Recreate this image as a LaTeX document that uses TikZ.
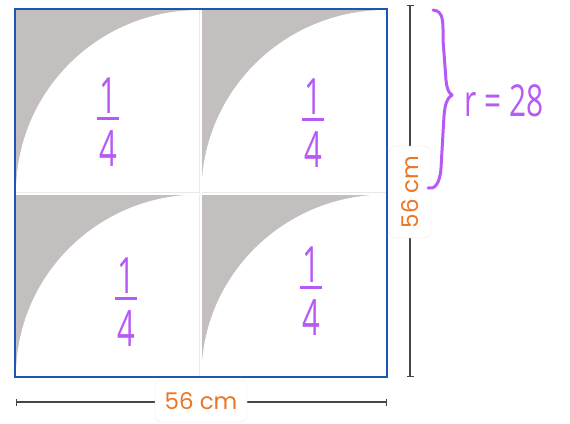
\documentclass[tikz,border=0pt]{standalone}
\usepackage{fontspec}
\usetikzlibrary{arrows.meta}
\newfontfamily\labelfont{Poppins}
\newfontfamily\handfont{Open Sans}
\definecolor{sqblue}{RGB}{28,86,184}
\definecolor{greyfill}{RGB}{195,191,190}
\definecolor{hand}{RGB}{182,90,246}
\definecolor{dimorange}{RGB}{236,118,36}
\definecolor{dimgrey}{RGB}{70,70,70}
\newcommand\hdig[1]{\hbox to 22pt{\hss\scalebox{0.62}[1]{#1}\hss}}
\newcommand\quarterfrac{\vbox{\hdig{1}\kern3pt\hrule height 3.5pt\kern10pt\hdig{4}}}
\tikzset{
  frac/.style={text=hand, inner sep=0pt, font=\handfont\fontsize{50}{50}\selectfont},
  dimline/.style={draw=dimgrey, line width=1.3pt, {Bar[width=7pt,line width=1.3pt]}-{Bar[width=7pt,line width=1.3pt]}},
  dimlabel/.style={fill=white, draw=black!8, rounded corners=7pt, minimum width=92pt, minimum height=42pt, inner sep=0pt, text=dimorange, font=\labelfont\fontsize{23}{23}\selectfont},
  bracepath/.style={draw=hand, line width=3pt, line cap=round, line join=round},
}
\begin{document}
\begin{tikzpicture}[x=1pt,y=1pt]
\useasboundingbox (0,0) rectangle (570,-423);
% quadrants: grey square with white quarter disc centred at bottom-right corner
\foreach \lx/\rx/\ty/\by in {16/199.5/-10/-192.5, 201.5/386/-10/-192.5, 16/199.5/-194.5/-376, 201.5/386/-194.5/-376}{
  \fill[greyfill] (\lx,\ty) rectangle (\rx,\by);
  \pgfmathsetmacro\rxr{\rx-\lx}
  \pgfmathsetmacro\ryr{\ty-\by}
  \fill[white] (\rx,\by) -- (\lx,\by) arc[start angle=180, end angle=90, x radius=\rxr, y radius=\ryr] -- cycle;
}
% outer square
\draw[sqblue, line width=2.5pt] (15,-9) rectangle (387,-377);
% fractions
\node[frac] (q1) at (108,-122) {\quarterfrac};
\node[frac] (q2) at (313,-123) {\quarterfrac};
\node[frac] (q3) at (126,-302) {\quarterfrac};
\node[frac] (q4) at (311,-291) {\quarterfrac};
% dimension lines
\coordinate (hl) at (16,-402);
\coordinate (hr) at (387,-402);
\draw[dimline] (hl) -- (hr);
\node[dimlabel] (hlab) at (201,-401) {56 cm};
\coordinate (vt) at (410,-5);
\coordinate (vb) at (410,-377);
\draw[dimline] (vt) -- (vb);
\node[dimlabel, rotate=90] (vlab) at (410,-192) {56 cm};
% brace
\draw[bracepath] (433,-10) .. controls (444,-11) and (443,-22) .. (443,-40)
  -- (446,-80) .. controls (447,-90) and (449,-93) .. (452,-95)
  .. controls (447,-98) and (445,-104) .. (444,-116)
  -- (441,-168) .. controls (440,-184) and (434,-190) .. (428,-188);
\node[text=hand, inner sep=0pt, anchor=west, font=\handfont\fontsize{44}{44}\selectfont] (rlab) at (464,-101) {\scalebox{0.68}[1]{r = 28}};
\end{tikzpicture}
\end{document}
